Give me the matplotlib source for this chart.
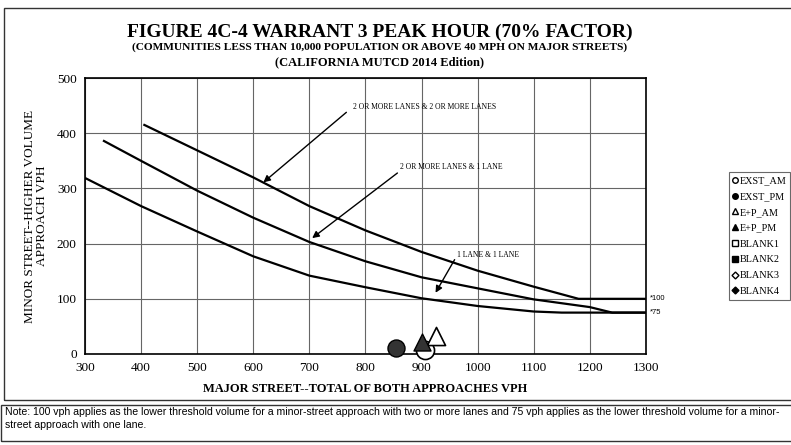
import matplotlib.pyplot as plt
from matplotlib.patches import Rectangle
from matplotlib.lines import Line2D

# warrant curves (major street total vph, minor street high-side vph)
major_2x2 = [404, 500, 600, 700, 800, 900, 1000, 1100, 1180, 1300]
minor_2x2 = [416, 369, 320, 268, 224, 185, 151, 122, 100, 100]

major_2x1 = [332, 400, 500, 600, 700, 800, 900, 1000, 1100, 1200, 1240, 1300]
minor_2x1 = [387, 350, 296, 247, 203, 168, 139, 119, 99, 85, 75, 75]

major_1x1 = [300, 400, 500, 600, 700, 800, 900, 1000, 1100, 1150, 1300]
minor_1x1 = [319, 268, 222, 177, 142, 121, 101, 87, 77, 75, 75]

# study intersection volumes
scenario_names = ["EXST_AM", "EXST_PM", "E+P_AM", "E+P_PM"]
scenario_major = [907, 855, 925, 900]
scenario_minor = [8, 10, 33, 21]

legend_names = ["EXST_AM", "EXST_PM", "E+P_AM", "E+P_PM",
                "BLANK1", "BLANK2", "BLANK3", "BLANK4"]

serif = "Liberation Serif"

fig = plt.figure(figsize=(7.91, 4.45), dpi=100)
ax = fig.add_axes([0.1075, 0.2045, 0.709, 0.62])

for xs, ys in [(major_2x2, minor_2x2), (major_2x1, minor_2x1), (major_1x1, minor_1x1)]:
    ax.plot(xs, ys, color="black", lw=1.6, solid_capstyle="butt")

ax.set_xlim(300, 1300)
ax.set_ylim(0, 500)
ax.set_xticks(range(300, 1301, 100))
ax.set_yticks(range(0, 501, 100))
ax.grid(True, color="#666666", lw=0.8)
ax.tick_params(length=0, pad=6, labelsize=9.5)
for lab in ax.get_xticklabels() + ax.get_yticklabels():
    lab.set_fontfamily(serif)
for s in ax.spines.values():
    s.set_linewidth(1.2)

# markers
ax.scatter(scenario_major[1], scenario_minor[1], s=150, marker="o",
           facecolor="#333333", edgecolor="black", zorder=5, clip_on=False)
ax.scatter(scenario_major[3], scenario_minor[3], s=150, marker="^",
           facecolor="#333333", edgecolor="black", zorder=5, clip_on=False)
ax.scatter(scenario_major[0], scenario_minor[0], s=170, marker="o",
           facecolor="white", edgecolor="black", lw=1.2, zorder=4, clip_on=False)
ax.scatter(scenario_major[2], scenario_minor[2], s=170, marker="^",
           facecolor="white", edgecolor="black", lw=1.2, zorder=4, clip_on=False)

# curve annotations: label text plus a separate leader arrow
arrow = dict(arrowstyle="-|>", color="black", lw=1.0, mutation_scale=10,
             shrinkA=0, shrinkB=0)
ax.text(777, 447, "2 OR MORE LANES & 2 OR MORE LANES", fontsize=5.5, family=serif,
        va="center", ha="left")
ax.annotate("", xy=(618, 311), xytext=(766, 438), arrowprops=arrow)
ax.text(862, 338, "2 OR MORE LANES & 1 LANE", fontsize=5.5, family=serif,
        va="center", ha="left")
ax.annotate("", xy=(705, 210), xytext=(857, 328), arrowprops=arrow)
ax.text(964, 180, "1 LANE & 1 LANE", fontsize=5.5, family=serif,
        va="center", ha="left")
ax.annotate("", xy=(925, 111), xytext=(959, 171), arrowprops=arrow)

ax.text(1308, 100, "*100", fontsize=5.5, va="center", family="Liberation Sans")
ax.text(1308, 75, "*75", fontsize=5.5, va="center", family="Liberation Sans")

ax.set_xlabel("MAJOR STREET--TOTAL OF BOTH APPROACHES VPH", family=serif,
              fontsize=9, fontweight="bold", labelpad=6)
ax.set_ylabel("MINOR STREET--HIGHER VOLUME\nAPPROACH VPH", family=serif,
              fontsize=9.5, labelpad=6, linespacing=1.0)

fig.text(0.48, 0.928, "FIGURE 4C-4 WARRANT 3 PEAK HOUR (70% FACTOR)", family=serif,
         fontsize=14, fontweight="bold", ha="center", va="center")
fig.text(0.48, 0.894, "(COMMUNITIES LESS THAN 10,000 POPULATION OR ABOVE 40 MPH ON MAJOR STREETS)",
         family=serif, fontsize=8.2, fontweight="bold", ha="center", va="center")
fig.text(0.48, 0.860, "(CALIFORNIA MUTCD 2014 Edition)", family=serif,
         fontsize=9, fontweight="bold", ha="center", va="center")

# legend at the right edge
handles = [
    Line2D([], [], ls="", marker="o", mfc="white", mec="black", ms=4),
    Line2D([], [], ls="", marker="o", mfc="black", mec="black", ms=4),
    Line2D([], [], ls="", marker="^", mfc="white", mec="black", ms=4),
    Line2D([], [], ls="", marker="^", mfc="black", mec="black", ms=4),
    Line2D([], [], ls="", marker="s", mfc="white", mec="black", ms=4),
    Line2D([], [], ls="", marker="s", mfc="black", mec="black", ms=4),
    Line2D([], [], ls="", marker="D", mfc="white", mec="black", ms=3.5),
    Line2D([], [], ls="", marker="D", mfc="black", mec="black", ms=3.5),
]
leg = fig.legend(handles, legend_names, loc="upper left", bbox_to_anchor=(0.921, 0.613),
                 prop={"family": serif, "size": 7.3}, frameon=True, fancybox=False,
                 edgecolor="#444444", handlelength=0.5, handletextpad=0.2,
                 borderpad=0.4, labelspacing=0.66, borderaxespad=0)
leg.get_frame().set_linewidth(0.8)

# outer frame around the chart and note box
fig.add_artist(Rectangle((0.005, 1 - 400 / 445), 1.2, (400 - 8) / 445,
                         transform=fig.transFigure, fill=False, lw=1.0, ec="#333333"))
fig.add_artist(Rectangle((0.001, 1 - 441 / 445), 1.2, (441 - 405) / 445,
                         transform=fig.transFigure, fill=False, lw=1.0, ec="#333333"))
fig.text(0.006, 1 - 412 / 445,
         "Note: 100 vph applies as the lower threshold volume for a minor-street approach with two or more lanes "
         "and 75 vph applies as the lower threshold volume for a minor-",
         family="Liberation Sans", fontsize=7.6, va="center", ha="left")
fig.text(0.006, 1 - 425 / 445, "street approach with one lane.",
         family="Liberation Sans", fontsize=7.6, va="center", ha="left")

fig.savefig("out.png", dpi=100)
